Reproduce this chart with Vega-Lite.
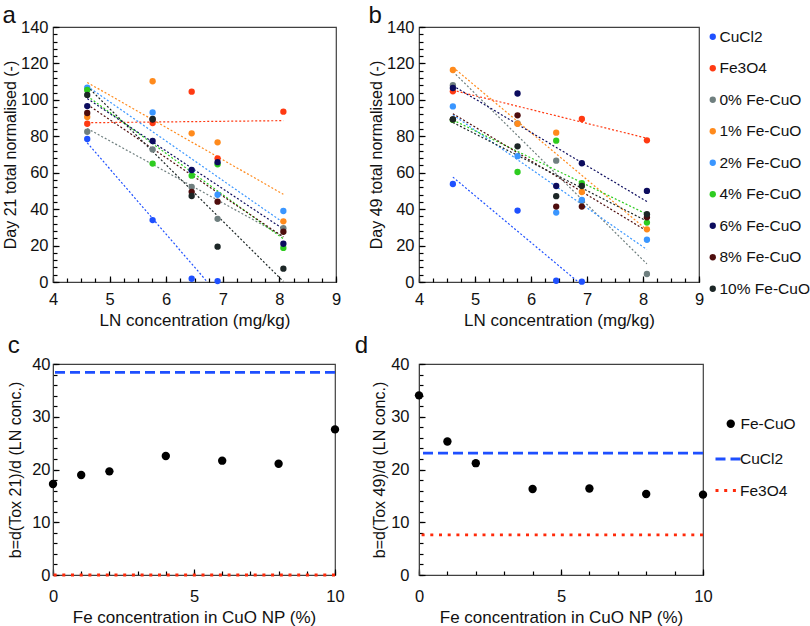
{
"$schema": "https://vega.github.io/schema/vega-lite/v6.json",
"padding": {"left": 1, "top": 3, "right": 0, "bottom": 0},
"datasets": {
"day21": [
{"s":"CuCl2","x":4.605,"y":78.5},{"s":"CuCl2","x":5.76,"y":34.0},{"s":"CuCl2","x":6.45,"y":1.8},{"s":"CuCl2","x":6.908,"y":0.5},
{"s":"Fe3O4","x":4.605,"y":86.9},{"s":"Fe3O4","x":5.76,"y":87.3},{"s":"Fe3O4","x":6.45,"y":104.5},{"s":"Fe3O4","x":6.908,"y":67.9},{"s":"Fe3O4","x":8.07,"y":93.5},
{"s":"0% Fe-CuO","x":4.605,"y":82.5},{"s":"0% Fe-CuO","x":5.76,"y":72.8},{"s":"0% Fe-CuO","x":6.45,"y":52.2},{"s":"0% Fe-CuO","x":6.908,"y":34.7},{"s":"0% Fe-CuO","x":8.07,"y":29.5},
{"s":"1% Fe-CuO","x":4.605,"y":90.6},{"s":"1% Fe-CuO","x":5.76,"y":110.2},{"s":"1% Fe-CuO","x":6.45,"y":81.6},{"s":"1% Fe-CuO","x":6.908,"y":76.7},{"s":"1% Fe-CuO","x":8.07,"y":33.3},
{"s":"2% Fe-CuO","x":4.605,"y":106.7},{"s":"2% Fe-CuO","x":5.76,"y":93.1},{"s":"2% Fe-CuO","x":6.45,"y":61.3},{"s":"2% Fe-CuO","x":6.908,"y":47.9},{"s":"2% Fe-CuO","x":8.07,"y":39.0},
{"s":"4% Fe-CuO","x":4.605,"y":105.4},{"s":"4% Fe-CuO","x":5.76,"y":65.0},{"s":"4% Fe-CuO","x":6.45,"y":58.4},{"s":"4% Fe-CuO","x":6.908,"y":64.6},{"s":"4% Fe-CuO","x":8.07,"y":18.7},
{"s":"6% Fe-CuO","x":4.605,"y":96.6},{"s":"6% Fe-CuO","x":5.76,"y":77.4},{"s":"6% Fe-CuO","x":6.45,"y":61.5},{"s":"6% Fe-CuO","x":6.908,"y":65.8},{"s":"6% Fe-CuO","x":8.07,"y":21.0},
{"s":"8% Fe-CuO","x":4.605,"y":92.8},{"s":"8% Fe-CuO","x":5.76,"y":89.2},{"s":"8% Fe-CuO","x":6.45,"y":49.5},{"s":"8% Fe-CuO","x":6.908,"y":44.1},{"s":"8% Fe-CuO","x":8.07,"y":27.6},
{"s":"10% Fe-CuO","x":4.605,"y":102.7},{"s":"10% Fe-CuO","x":5.76,"y":89.5},{"s":"10% Fe-CuO","x":6.45,"y":47.2},{"s":"10% Fe-CuO","x":6.908,"y":19.4},{"s":"10% Fe-CuO","x":8.07,"y":7.3}
],
"day49": [
{"s":"CuCl2","x":4.605,"y":53.8},{"s":"CuCl2","x":5.76,"y":39.2},{"s":"CuCl2","x":6.45,"y":0.7},{"s":"CuCl2","x":6.908,"y":0.2},
{"s":"Fe3O4","x":4.605,"y":104.7},{"s":"Fe3O4","x":6.908,"y":89.5},{"s":"Fe3O4","x":8.07,"y":77.8},
{"s":"0% Fe-CuO","x":4.605,"y":108.0},{"s":"0% Fe-CuO","x":5.76,"y":87.0},{"s":"0% Fe-CuO","x":6.45,"y":66.6},{"s":"0% Fe-CuO","x":6.908,"y":44.5},{"s":"0% Fe-CuO","x":8.07,"y":4.4},
{"s":"1% Fe-CuO","x":4.605,"y":116.4},{"s":"1% Fe-CuO","x":5.76,"y":86.9},{"s":"1% Fe-CuO","x":6.45,"y":82.0},{"s":"1% Fe-CuO","x":6.908,"y":49.4},{"s":"1% Fe-CuO","x":8.07,"y":28.9},
{"s":"2% Fe-CuO","x":4.605,"y":96.4},{"s":"2% Fe-CuO","x":5.76,"y":69.1},{"s":"2% Fe-CuO","x":6.45,"y":38.1},{"s":"2% Fe-CuO","x":6.908,"y":45.0},{"s":"2% Fe-CuO","x":8.07,"y":23.2},
{"s":"4% Fe-CuO","x":4.605,"y":89.0},{"s":"4% Fe-CuO","x":5.76,"y":60.4},{"s":"4% Fe-CuO","x":6.45,"y":77.6},{"s":"4% Fe-CuO","x":6.908,"y":54.2},{"s":"4% Fe-CuO","x":8.07,"y":32.6},
{"s":"6% Fe-CuO","x":4.605,"y":106.5},{"s":"6% Fe-CuO","x":5.76,"y":103.5},{"s":"6% Fe-CuO","x":6.45,"y":52.7},{"s":"6% Fe-CuO","x":6.908,"y":65.2},{"s":"6% Fe-CuO","x":8.07,"y":50.0},
{"s":"8% Fe-CuO","x":4.605,"y":89.3},{"s":"8% Fe-CuO","x":5.76,"y":91.5},{"s":"8% Fe-CuO","x":6.45,"y":41.4},{"s":"8% Fe-CuO","x":6.908,"y":41.4},{"s":"8% Fe-CuO","x":8.07,"y":35.5},
{"s":"10% Fe-CuO","x":4.605,"y":89.3},{"s":"10% Fe-CuO","x":5.76,"y":74.5},{"s":"10% Fe-CuO","x":6.45,"y":47.1},{"s":"10% Fe-CuO","x":6.908,"y":52.7},{"s":"10% Fe-CuO","x":8.07,"y":37.2}
],
"slope21": [
{"s":"Fe-CuO","x":0,"y":17.25},{"s":"Fe-CuO","x":1,"y":18.96},{"s":"Fe-CuO","x":2,"y":19.65},{"s":"Fe-CuO","x":4,"y":22.56},{"s":"Fe-CuO","x":6,"y":21.67},{"s":"Fe-CuO","x":8,"y":21.1},{"s":"Fe-CuO","x":10,"y":27.6}
],
"slope49": [
{"s":"Fe-CuO","x":0,"y":34.06},{"s":"Fe-CuO","x":1,"y":25.3},{"s":"Fe-CuO","x":2,"y":21.2},{"s":"Fe-CuO","x":4,"y":16.3},{"s":"Fe-CuO","x":6,"y":16.4},{"s":"Fe-CuO","x":8,"y":15.36},{"s":"Fe-CuO","x":10,"y":15.23}
],
"ref21": [{"s":"CuCl2","y":38.4},{"s":"Fe3O4","y":0}],
"ref49": [{"s":"CuCl2","y":23.1},{"s":"Fe3O4","y":7.6}]
},
"spacing": 3,
"resolve": {"scale": {"color": "independent", "fill": "independent", "stroke": "independent", "strokeDash": "independent"}, "legend": {"color": "independent", "fill": "independent", "stroke": "independent", "strokeDash": "independent"}},
"vconcat": [
{
"spacing": 25,
"resolve": {"scale": {"color": "independent"}, "legend": {"color": "independent"}},
"hconcat": [
{
"title": {"text": "a", "offset": -9},
"width": 283, "height": 255,
"data": {"name": "day21"},
"resolve": {"axis": {"x": "independent", "y": "independent"}},
"layer": [
{"transform": [{"regression": "y", "on": "x", "groupby": ["s"]}],
 "mark": {"type": "line", "strokeWidth": 1.2, "strokeDash": [2, 2], "clip": true},
 "encoding": {
  "x": {"field": "x", "type": "quantitative", "scale": {"domain": [4, 9]}, "axis": {"orient": "bottom", "title": "LN concentration (mg/kg)", "titleFontSize": 17, "format": "d", "values": [4,5,6,7,8,9], "tickSize": -6, "labelPadding": 15, "titlePadding": 5}},
  "y": {"field": "y", "type": "quantitative", "scale": {"domain": [0, 140]}, "axis": {"orient": "left", "title": "Day 21 total normalised (-)", "values": [0,20,40,60,80,100,120,140], "tickSize": -6, "labelPadding": 11, "titlePadding": 2}},
  "color": {"field": "s", "type": "nominal", "scale": {"domain": ["CuCl2","Fe3O4","0% Fe-CuO","1% Fe-CuO","2% Fe-CuO","4% Fe-CuO","6% Fe-CuO","8% Fe-CuO","10% Fe-CuO"], "range": ["#1e50ff","#ff3a12","#6f7f7f","#ff8a1c","#3a96ff","#2ecc20","#0c0c5e","#4e0d0d","#1c2626"]}, "legend": null}
 }},
{"mark": {"type": "point", "filled": true, "size": 40, "opacity": 1},
 "encoding": {
  "x": {"field": "x", "type": "quantitative", "axis": {"orient": "bottom", "title": null, "labels": false, "domain": false, "values": [4,4.25,4.5,4.75,5,5.25,5.5,5.75,6,6.25,6.5,6.75,7,7.25,7.5,7.75,8,8.25,8.5,8.75,9], "tickSize": -4}},
  "y": {"field": "y", "type": "quantitative", "axis": {"orient": "left", "title": null, "labels": false, "domain": false, "values": [0,4,8,12,16,20,24,28,32,36,40,44,48,52,56,60,64,68,72,76,80,84,88,92,96,100,104,108,112,116,120,124,128,132,136,140], "tickSize": -4}},
  "color": {"field": "s", "type": "nominal", "legend": null}
 }}
]
},
{
"title": {"text": "b", "offset": -9},
"width": 280, "height": 255,
"data": {"name": "day49"},
"resolve": {"axis": {"x": "independent", "y": "independent"}},
"layer": [
{"transform": [{"regression": "y", "on": "x", "groupby": ["s"]}],
 "mark": {"type": "line", "strokeWidth": 1.2, "strokeDash": [2, 2], "clip": true},
 "encoding": {
  "x": {"field": "x", "type": "quantitative", "scale": {"domain": [4, 9]}, "axis": {"orient": "bottom", "title": "LN concentration (mg/kg)", "titleFontSize": 17, "format": "d", "values": [4,5,6,7,8,9], "tickSize": -6, "labelPadding": 15, "titlePadding": 5}},
  "y": {"field": "y", "type": "quantitative", "scale": {"domain": [0, 140]}, "axis": {"orient": "left", "title": "Day 49 total normalised (-)", "values": [0,20,40,60,80,100,120,140], "tickSize": -6, "labelPadding": 11, "titlePadding": 2}},
  "color": {"field": "s", "type": "nominal", "scale": {"domain": ["CuCl2","Fe3O4","0% Fe-CuO","1% Fe-CuO","2% Fe-CuO","4% Fe-CuO","6% Fe-CuO","8% Fe-CuO","10% Fe-CuO"], "range": ["#1e50ff","#ff3a12","#6f7f7f","#ff8a1c","#3a96ff","#2ecc20","#0c0c5e","#4e0d0d","#1c2626"]}, "legend": {"title": null, "orient": "right", "offset": 4, "padding": 2, "symbolType": "circle", "symbolSize": 40, "symbolStrokeWidth": 0, "symbolOpacity": 1, "labelFontSize": 15.5, "labelOffset": -1, "rowPadding": 14.5, "labelColor": "#111"}}
 }},
{"mark": {"type": "point", "filled": true, "size": 40, "opacity": 1},
 "encoding": {
  "x": {"field": "x", "type": "quantitative", "axis": {"orient": "bottom", "title": null, "labels": false, "domain": false, "values": [4,4.25,4.5,4.75,5,5.25,5.5,5.75,6,6.25,6.5,6.75,7,7.25,7.5,7.75,8,8.25,8.5,8.75,9], "tickSize": -4}},
  "y": {"field": "y", "type": "quantitative", "axis": {"orient": "left", "title": null, "labels": false, "domain": false, "values": [0,4,8,12,16,20,24,28,32,36,40,44,48,52,56,60,64,68,72,76,80,84,88,92,96,100,104,108,112,116,120,124,128,132,136,140], "tickSize": -4}},
  "color": {"field": "s", "type": "nominal", "legend": {"title": null, "orient": "right", "offset": 4, "padding": 2, "symbolType": "circle", "symbolSize": 40, "symbolStrokeWidth": 0, "symbolOpacity": 1, "labelFontSize": 15.5, "labelOffset": -1, "rowPadding": 14.5, "labelColor": "#111"}}
 }}
]
}
]
},
{
"spacing": 9,
"resolve": {"scale": {"fill": "independent", "stroke": "independent", "strokeDash": "independent"}, "legend": {"fill": "independent", "stroke": "independent", "strokeDash": "independent"}},
"hconcat": [
{
"title": {"text": "c", "offset": -2},
"width": 282, "height": 211,
"resolve": {"axis": {"x": "independent", "y": "independent"}},
"layer": [
{"data": {"name": "ref21"},
 "mark": {"type": "rule", "strokeWidth": 2.8},
 "encoding": {
  "y": {"field": "y", "type": "quantitative", "axis": {"orient": "left", "title": null, "labels": false, "domain": false, "values": [0,2,4,6,8,10,12,14,16,18,20,22,24,26,28,30,32,34,36,38,40], "tickSize": -4}},
  "stroke": {"field": "s", "type": "nominal", "scale": {"domain": ["CuCl2","Fe3O4"], "range": ["#1e4fff","#ff2a0a"]}, "legend": null},
  "strokeDash": {"field": "s", "type": "nominal", "scale": {"domain": ["CuCl2","Fe3O4"], "range": [[10,5],[3,5.7]]}, "legend": null}
 }},
{"data": {"name": "slope21"},
 "mark": {"type": "point", "filled": true, "size": 70, "opacity": 0},
 "encoding": {
  "x": {"field": "x", "type": "quantitative", "axis": {"orient": "bottom", "title": null, "labels": false, "domain": false, "values": [0,1,2,3,4,5,6,7,8,9,10], "tickSize": -4}},
  "y": {"field": "y", "type": "quantitative", "axis": null}
 }},
{"data": {"name": "slope21"},
 "mark": {"type": "point", "filled": true, "size": 70, "opacity": 1},
 "encoding": {
  "x": {"field": "x", "type": "quantitative", "scale": {"domain": [0, 10]}, "axis": {"orient": "bottom", "title": "Fe concentration in CuO NP (%)", "titleFontSize": 17, "values": [0,5,10], "tickSize": -6, "labelPadding": 19, "titlePadding": 5}},
  "y": {"field": "y", "type": "quantitative", "scale": {"domain": [0, 40]}, "axis": {"orient": "left", "title": "b=d(Tox 21)/d (LN conc.)", "values": [0,10,20,30,40], "tickSize": -6, "labelPadding": 9, "titlePadding": 8}},
  "fill": {"field": "s", "type": "nominal", "scale": {"domain": ["Fe-CuO"], "range": ["#000000"]}, "legend": null}
 }}
]
},
{
"title": {"text": "d", "offset": -2, "dx": -17},
"width": 284, "height": 211,
"resolve": {"axis": {"x": "independent", "y": "independent"}},
"layer": [
{"data": {"name": "ref49"},
 "mark": {"type": "rule", "strokeWidth": 2.8},
 "encoding": {
  "y": {"field": "y", "type": "quantitative", "axis": {"orient": "left", "title": null, "labels": false, "domain": false, "values": [0,2,4,6,8,10,12,14,16,18,20,22,24,26,28,30,32,34,36,38,40], "tickSize": -4}},
  "stroke": {"field": "s", "type": "nominal", "scale": {"domain": ["CuCl2","Fe3O4"], "range": ["#1e4fff","#ff2a0a"]}, "legend": {"title": null, "orient": "none", "legendX": 295, "legendY": 81, "symbolType": "stroke", "symbolSize": 625, "symbolStrokeWidth": 2.8, "labelFontSize": 15.5, "labelOffset": -2, "rowPadding": 8.5, "padding": 0, "labelColor": "#111"}},
  "strokeDash": {"field": "s", "type": "nominal", "scale": {"domain": ["CuCl2","Fe3O4"], "range": [[10,5],[3,5.7]]}, "legend": {"title": null, "orient": "none", "legendX": 295, "legendY": 81, "symbolType": "stroke", "symbolSize": 625, "symbolStrokeWidth": 2.8, "labelFontSize": 15.5, "labelOffset": -2, "rowPadding": 8.5, "padding": 0, "labelColor": "#111"}}
 }},
{"data": {"name": "slope49"},
 "mark": {"type": "point", "filled": true, "size": 70, "opacity": 0},
 "encoding": {
  "x": {"field": "x", "type": "quantitative", "axis": {"orient": "bottom", "title": null, "labels": false, "domain": false, "values": [0,1,2,3,4,5,6,7,8,9,10], "tickSize": -4}},
  "y": {"field": "y", "type": "quantitative", "axis": null}
 }},
{"data": {"name": "slope49"},
 "mark": {"type": "point", "filled": true, "size": 70, "opacity": 1},
 "encoding": {
  "x": {"field": "x", "type": "quantitative", "scale": {"domain": [0, 10]}, "axis": {"orient": "bottom", "title": "Fe concentration in CuO NP (%)", "titleFontSize": 17, "values": [0,5,10], "tickSize": -6, "labelPadding": 19, "titlePadding": 5}},
  "y": {"field": "y", "type": "quantitative", "scale": {"domain": [0, 40]}, "axis": {"orient": "left", "title": "b=d(Tox 49)/d (LN conc.)", "values": [0,10,20,30,40], "tickSize": -6, "labelPadding": 16, "titlePadding": 3}},
  "fill": {"field": "s", "type": "nominal", "scale": {"domain": ["Fe-CuO"], "range": ["#000000"]}, "legend": {"title": null, "orient": "none", "legendX": 304, "legendY": 52, "symbolType": "circle", "symbolSize": 70, "labelFontSize": 15.5, "labelOffset": 2, "padding": 0, "labelColor": "#111"}}
 }}
]
}
]
}
],
"config": {
 "font": "Liberation Sans",
 "view": {"stroke": "#404040", "strokeWidth": 1.2},
 "axis": {"grid": false, "ticks": true, "domainColor": "#404040", "tickColor": "#000000", "tickWidth": 1.2, "labelColor": "#111", "titleColor": "#111", "labelFontSize": 16.5, "titleFontSize": 16, "titleFontWeight": "normal", "labelFlush": false, "labelBound": false},
 "title": {"fontSize": 24, "fontWeight": "normal", "anchor": "start", "frame": "bounds", "color": "#111"}
}
}
